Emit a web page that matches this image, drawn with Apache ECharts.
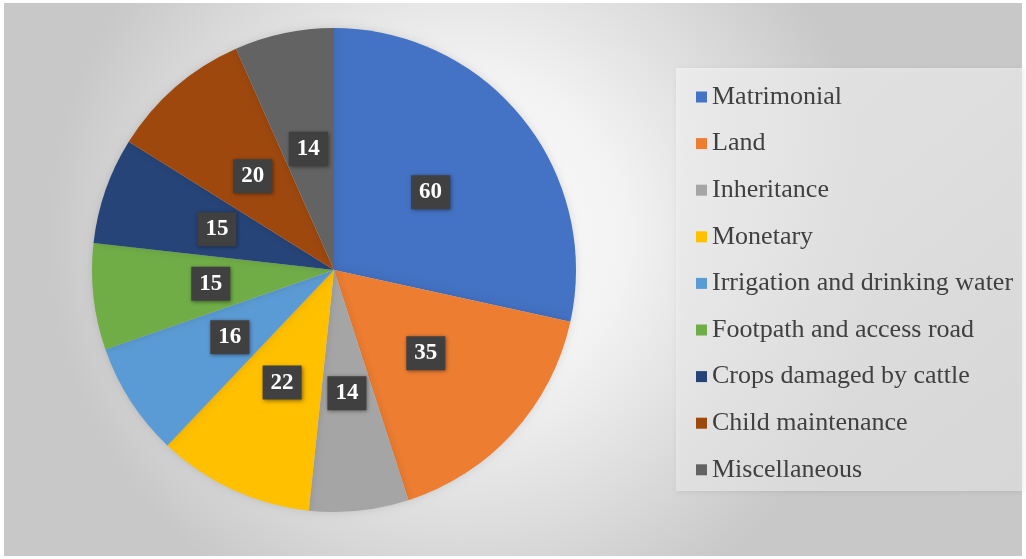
<!DOCTYPE html>
<html>
<head>
<meta charset="utf-8">
<script src="https://cdn.jsdelivr.net/npm/echarts@6/dist/echarts.min.js"></script>
<style>
  html, body { margin: 0; padding: 0; background: #ffffff; }
  #chart { width: 1026px; height: 559px; }
</style>
</head>
<body>
<div id="chart"></div>
<script>
// Dispute categories and number of cases
const categories = [
  'Matrimonial',
  'Land',
  'Inheritance',
  'Monetary',
  'Irrigation and drinking water',
  'Footpath and access road',
  'Crops damaged by cattle',
  'Child maintenance',
  'Miscellaneous'
];
const cases = [60, 35, 14, 22, 16, 15, 15, 20, 14];
const sliceColors = ['#4472C4', '#ED7D31', '#A5A5A5', '#FFC000', '#5B9BD5', '#70AD47', '#264478', '#9E480E', '#636363'];

const chart = echarts.init(document.getElementById('chart'), null, { renderer: 'canvas' });

const serif = '"Liberation Serif", "Times New Roman", serif';

chart.setOption({
  animation: false,
  backgroundColor: '#ffffff',
  color: sliceColors,
  graphic: [
    {
      type: 'rect',
      z: -10,
      shape: { x: 4, y: 3, width: 1018, height: 553 },
      style: {
        fill: new echarts.graphic.RadialGradient(0.45, 0.42, 0.75, [
          { offset: 0, color: '#ffffff' },
          { offset: 0.4, color: '#f2f2f2' },
          { offset: 1, color: '#c8c8c8' }
        ])
      },
      silent: true
    },
    {
      type: 'rect',
      z: -5,
      shape: { x: 676, y: 68, width: 346, height: 423 },
      style: {
        fill: new echarts.graphic.LinearGradient(0, 0, 1, 1, [
          { offset: 0, color: 'rgba(246,246,246,0.7)' },
          { offset: 1, color: 'rgba(228,228,228,0.7)' }
        ]),
        shadowBlur: 5,
        shadowColor: 'rgba(0,0,0,0.12)',
        shadowOffsetX: 1,
        shadowOffsetY: 1
      },
      silent: true
    }
  ],
  legend: {
    orient: 'vertical',
    left: 691,
    top: 79,
    icon: 'rect',
    itemWidth: 11,
    itemHeight: 11,
    itemGap: 20.6,
    textStyle: {
      fontFamily: serif,
      fontSize: 26,
      lineHeight: 26,
      color: '#404040'
    },
    data: categories
  },
  series: [
    {
      type: 'pie',
      center: [334, 270],
      radius: [0, 242],
      startAngle: 90,
      clockwise: true,
      data: categories.map((name, i) => ({ name, value: cases[i] })),
      itemStyle: {
        shadowBlur: 8,
        shadowColor: 'rgba(0,0,0,0.12)'
      },
      label: {
        show: true,
        position: 'inside',
        formatter: '{c}',
        fontFamily: serif,
        fontWeight: 'bold',
        fontSize: 23,
        color: '#ffffff',
        backgroundColor: '#404040',
        padding: [7, 8, 4, 8],
        shadowBlur: 4,
        shadowColor: 'rgba(0,0,0,0.45)',
        shadowOffsetX: 1,
        shadowOffsetY: 1
      },
      labelLine: { show: false },
      emphasis: { disabled: true }
    }
  ]
});
</script>
</body>
</html>
